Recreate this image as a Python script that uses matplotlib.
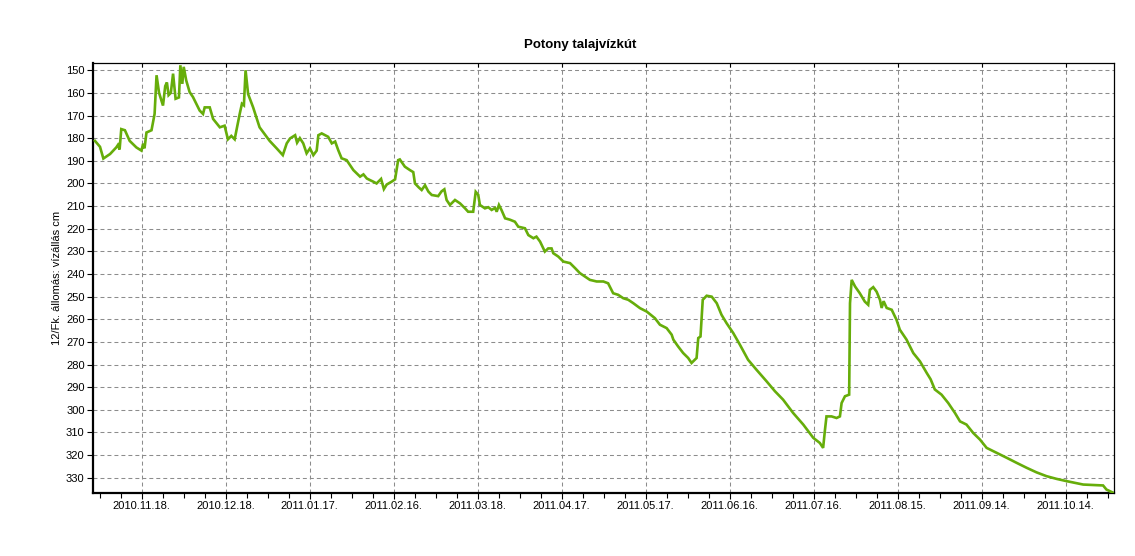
import datetime
import numpy as np
import matplotlib
matplotlib.use('Agg')
import matplotlib.pyplot as plt
import matplotlib.dates as mdates
from matplotlib.ticker import FixedLocator, NullLocator

# data: days since 2010-11-01 and water level (cm)
start_date = '2010-11-01'
days = [0.3, 2.1, 3.3, 5.7, 7.9, 8.5, 9.1, 9.7, 11.0, 12.7, 15.1, 16.9, 17.5, 18.0,
        18.7, 20.5, 21.6, 22.3, 23.2, 24.6, 25.4, 26.0, 26.6, 27.4, 28.2, 29.1,
        30.3, 30.8, 31.5, 32.0, 32.9, 34.1, 35.3, 37.7, 38.9, 39.5, 41.3, 42.5,
        44.9, 46.6, 47.8, 49.0, 50.2, 52.0, 52.8, 53.5, 54.1, 55.0, 56.8,
        59.1, 62.7, 65.2, 67.4, 68.8, 70.0, 71.8, 72.5, 73.5, 74.7, 75.9,
        77.1, 78.3, 79.5, 80.1, 81.3, 83.6, 84.9, 86.1, 87.2, 88.4, 90.2, 92.6,
        95.0, 96.2, 97.4, 98.5, 99.7, 100.9, 102.1, 102.5, 103.5, 104.5, 106.3,
        107.5, 108.6, 109.2, 111.0, 112.8, 114.0, 114.6, 116.0, 117.0, 118.2,
        119.4, 120.6, 122.9, 124.1, 125.1, 125.9, 127.1, 128.9, 130.7, 132.5,
        133.6, 135.4, 136.3, 137.2, 137.8, 139.6, 140.8, 142.0, 143.2, 143.8,
        144.6, 145.5, 146.8, 148.5, 150.3, 151.5, 153.9, 155.1, 156.9, 158.0,
        159.3, 161.0, 162.2, 163.4, 164.0, 165.8, 167.6, 170.0, 171.8, 173.5,
        175.3, 177.1, 179.5, 181.9, 183.6, 185.4, 187.2, 189.0, 190.8, 192.6,
        195.0, 197.4, 200.3, 202.1, 204.5, 206.3, 206.9, 208.6, 210.4, 212.2,
        213.4, 215.2, 215.8, 216.6, 217.4, 218.8, 220.6, 222.4, 224.1, 225.9,
        228.3, 230.7, 233.6, 236.6, 240.2, 243.2, 246.1, 249.7, 253.3, 256.9,
        259.2, 260.4, 261.0, 261.6, 263.4, 265.2, 266.4, 267.0, 268.2, 269.7,
        270.0, 270.6, 271.8, 273.5, 275.3, 276.5, 277.1, 278.3, 279.5, 280.7,
        281.3, 282.0, 283.1, 284.9, 286.6, 287.8, 290.2, 292.6, 295.0, 297.4,
        298.8, 300.3, 302.7, 305.1, 307.5, 309.3, 311.6, 314.0, 316.4, 318.8,
        322.4, 326.0, 329.5, 333.1, 336.6, 340.2, 343.8, 347.4, 353.3, 360.4,
        361.6, 363.8]
level = [181.2, 183.8, 189.0, 187.0, 184.1, 183.0, 185.0, 176.0, 176.5, 181.2, 184.1, 185.5, 182.5, 184.5,
         177.5, 176.5, 169.3, 152.2, 160.0, 165.6, 157.0, 155.4, 161.0, 160.0, 151.5, 162.6,
         162.0, 147.8, 156.0, 148.5, 154.5, 159.6, 161.8, 167.8, 169.3, 166.4, 166.4, 171.5,
         175.2, 174.5, 180.5, 179.0, 180.5, 169.3, 164.8, 165.5, 150.0, 160.5, 166.4,
         175.2, 181.2, 184.5, 187.5, 182.3, 180.1, 178.7, 182.0, 180.0, 182.3, 186.7,
         184.5, 187.5, 185.5, 178.7, 177.9, 179.4, 182.3, 181.5, 185.3, 188.9, 189.7, 194.1,
         197.0, 196.0, 197.8, 198.5, 199.2, 200.0, 198.5, 198.0, 202.5, 200.5, 199.2,
         198.2, 189.7, 189.4, 192.6, 194.1, 195.0, 200.0, 201.8, 202.9, 200.8,
         203.6, 205.1, 205.6, 203.5, 202.6, 207.3, 209.5, 207.3, 208.8, 211.0,
         212.5, 212.5, 203.7, 205.0, 209.5, 211.0, 210.5, 211.7, 210.8, 212.5,
         209.5, 211.7, 215.4, 216.0, 216.9, 219.1, 219.8, 222.8, 224.2, 223.5,
         225.7, 230.1, 228.7, 228.7, 230.8, 232.3, 234.5, 235.2, 237.4, 239.6,
         241.1, 242.6, 243.3, 243.3, 244.1, 248.5, 249.2, 250.7, 251.4, 252.9,
         255.1, 256.6, 259.5, 262.4, 263.9, 266.8, 269.0, 272.0, 274.9, 277.1,
         279.3, 277.1, 268.3, 267.6, 251.4, 249.6, 250.0, 252.9, 258.0, 261.7,
         266.1, 271.3, 277.9, 282.3, 287.4, 291.8, 295.5, 301.4, 306.5, 312.4,
         314.6, 316.8, 309.5, 302.9, 302.9, 303.6, 302.9, 297.0, 294.0, 293.3,
         252.9, 242.6, 245.5, 248.5, 252.2, 253.6, 247.0, 245.8, 247.8, 251.4,
         255.0, 252.0, 255.0, 255.8, 260.2, 264.6, 269.0, 274.9, 278.6, 283.7,
         286.5, 291.0, 293.3, 297.0, 301.4, 305.1, 306.5, 310.2, 313.1, 316.8,
         319.0, 321.2, 323.4, 325.6, 327.6, 329.3, 330.5, 331.5, 333.0, 333.4,
         335.2, 336.5]
tick_labels = ['2010.11.18.', '2010.12.18.', '2011.01.17.', '2011.02.16.',
               '2011.03.18.', '2011.04.17.', '2011.05.17.', '2011.06.16.',
               '2011.07.16.', '2011.08.15.', '2011.09.14.', '2011.10.14.']
y_ticks = list(range(150, 331, 10))

W, H = 1135, 556
plt.rcParams['font.family'] = ['Liberation Sans', 'DejaVu Sans']
grid_kw = dict(color='#8c8c8c', lw=0.75, linestyle=(0, (3.8, 2.9)), zorder=1)

fig = plt.figure(figsize=(W / 100, H / 100), dpi=100)
rect = [93 / W, 1 - 492.7 / H, (1114 - 93) / W, (492.7 - 63) / H]
ax = fig.add_axes(rect)

x0 = mdates.date2num(np.datetime64(start_date))
x = x0 + np.array(days)
ax.plot(x, level, color='#66ad0a', lw=1.9, solid_joinstyle='miter', zorder=3)

tick_pos = [mdates.date2num(datetime.datetime.strptime(s, '%Y.%m.%d.')) for s in tick_labels]
xlim = (x0 - 0.4, x0 + 364.3)
step = (tick_pos[1] - tick_pos[0]) / 4
minor_pos = [p for p in np.arange(tick_pos[0] - 4 * step, xlim[1], step)
             if xlim[0] <= p and min(abs(p - t) for t in tick_pos) > 1]

ax.set_xlim(*xlim)
ax.set_ylim(336.6, 146.8)
ax.xaxis.set_major_locator(FixedLocator(tick_pos))
ax.set_xticklabels(tick_labels)
ax.xaxis.set_minor_locator(FixedLocator(minor_pos))
ax.set_yticks(y_ticks)
ax.yaxis.set_minor_locator(NullLocator())

ax.grid(False)
for p in tick_pos:
    ax.axvline(p, **grid_kw)
for v in y_ticks:
    ax.axhline(v, **grid_kw)

ax.tick_params(axis='both', which='major', labelsize=8, length=4, width=0.8, pad=2, colors='black')
ax.tick_params(axis='x', which='minor', length=3.5, width=0.8)

for side in ['left', 'bottom']:
    ax.spines[side].set_linewidth(1.6)
for side in ['top', 'right']:
    ax.spines[side].set_linewidth(0.9)

# inward ticks along the top edge, on a transparent overlay
top = fig.add_axes(rect, frameon=False)
top.set_xlim(*xlim)
top.xaxis.set_major_locator(FixedLocator(tick_pos))
top.xaxis.set_minor_locator(NullLocator())
top.xaxis.tick_top()
top.tick_params(axis='x', direction='in', length=3, width=0.8, labeltop=False)
top.set_yticks([])
top.grid(False)
top.patch.set_alpha(0)

ax.set_ylabel('12/Fk. állomás: vízállás cm', fontsize=8, labelpad=3)
fig.text(580 / W, 1 - 45 / H, 'Potony talajvízkút', ha='center', va='center',
         fontsize=9.5, fontweight='bold')

fig.savefig('out.png', dpi=100, facecolor='white')
